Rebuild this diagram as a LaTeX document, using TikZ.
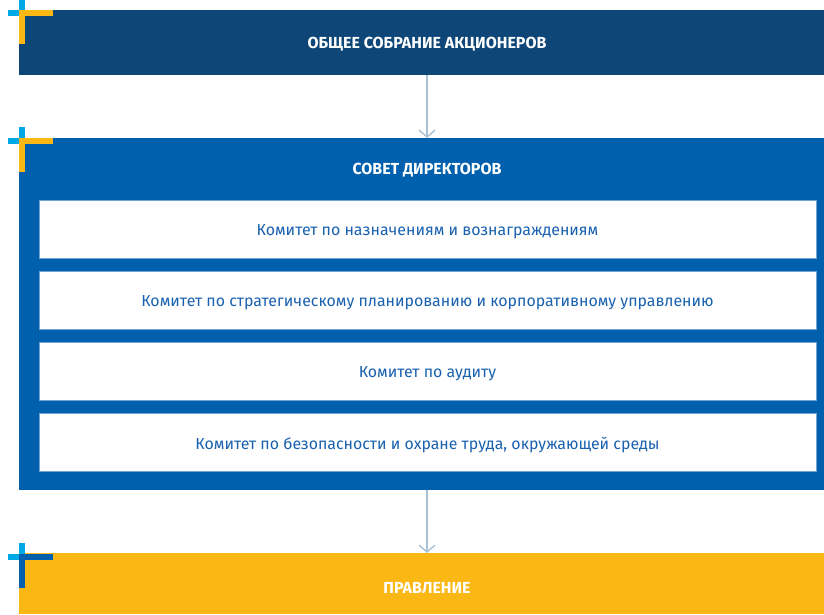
\documentclass[tikz,border=0pt]{standalone}
\usepackage{fontspec}
\setmainfont{Fira Sans}
\usetikzlibrary{arrows.meta,calc}
\definecolor{navy}{HTML}{0E4677}
\definecolor{mblue}{HTML}{0060AD}
\definecolor{gold}{HTML}{FBB713}
\definecolor{sky}{HTML}{00A9E6}
\definecolor{arrowc}{HTML}{A9C0D3}
\definecolor{txtblue}{HTML}{1A62B0}
\definecolor{edgeb}{HTML}{6FA3D4}
\tikzset{
  panel/.style={rectangle, inner sep=0, outer sep=0, minimum width=805pt},
  title/.style={inner sep=0, text=white, font=\fontsize{16}{18}\selectfont\bfseries},
  committee/.style={rectangle, fill=white, draw=edgeb, line width=0.6pt, inner sep=0, outer sep=0,
    minimum width=777pt, minimum height=58pt},
  ctext/.style={inner sep=0, text=txtblue, font=\fontsize{15.9}{18}\selectfont},
  arr/.style={draw=arrowc, line width=1.6pt, -{Straight Barb[length=7pt,width=16pt,line width=1.4pt]}},
}
\begin{document}
\begin{tikzpicture}[x=1pt,y=-1pt]
\useasboundingbox (0,0) rectangle (824,614);
% panels
\node[panel, fill=navy, minimum height=65pt] (gms) at (421.5,42.5) {};
\node[panel, fill=mblue, minimum height=352pt] (sd) at (421.5,314) {};
\node[panel, fill=gold, minimum height=61pt] (pr) at (421.5,583.5) {};
% corner marks
\fill[sky] (19,0) rectangle (25,10);
\fill[sky] (8,10) rectangle (19,16);
\fill[gold] (19,10) rectangle (53,16);
\fill[gold] (19,10) rectangle (25,44);
\fill[sky] (19,127) rectangle (25,138);
\fill[sky] (8,138) rectangle (19,144);
\fill[gold] (19,138) rectangle (53,144);
\fill[gold] (19,138) rectangle (25,172);
\fill[sky] (19,543) rectangle (25,554);
\fill[sky] (8,554) rectangle (19,560);
\fill[mblue] (19,554) rectangle (53,560);
\fill[mblue] (19,554) rectangle (25,588);
% titles
\node[title] (tgms) at (427,44) {ОБЩЕЕ СОБРАНИЕ АКЦИОНЕРОВ};
\node[title] (tsd) at (427,170.5) {СОВЕТ ДИРЕКТОРОВ};
\node[title] (tpr) at (427,588) {ПРАВЛЕНИЕ};
% committees
\node[committee] (c1) at (427.5,229) {};
\node[committee] (c2) at (427.5,300) {};
\node[committee] (c3) at (427.5,371) {};
\node[committee] (c4) at (427.5,442) {};
\node[ctext] at ($(c1.center)+(0,2.8)$) {Комитет по назначениям и вознаграждениям};
\node[ctext] at ($(c2.center)+(0,2.8)$) {Комитет по стратегическому планированию и корпоративному управлению};
\node[ctext] at ($(c3.center)+(0,2.8)$) {Комитет по аудиту};
\node[ctext] at ($(c4.center)+(0,2.8)$) {Комитет по безопасности и охране труда, окружающей среды};
% arrows
\draw[arr] (tgms |- gms.south) -- (tgms |- sd.north);
\draw[arr] (tsd |- sd.south) -- (tsd |- pr.north);
\end{tikzpicture}
\end{document}
